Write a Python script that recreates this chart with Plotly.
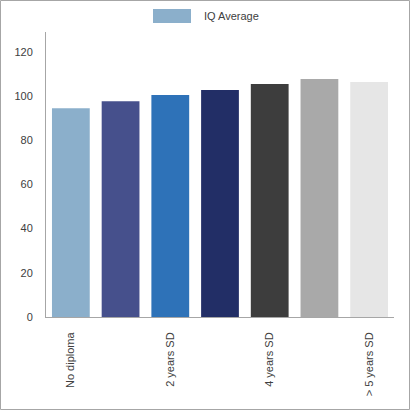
import plotly.graph_objects as go

categories = ["No diploma", "1 year SD", "2 years SD", "3 years SD",
              "4 years SD", "5 years SD", "> 5 years SD"]
iq_average = [94.5, 97.7, 100.5, 102.7, 105.5, 107.7, 106.4]
bar_colors = ["#8BAFCB", "#46508C", "#2E72B8", "#222E66",
              "#3D3D3D", "#A9A9A9", "#E6E6E6"]
shown_ticks = ["No diploma", "2 years SD", "4 years SD", "> 5 years SD"]

W, H = 411, 411
ml, mr, mt, mb = 46, 17, 32, 94
pw, ph = W - ml - mr, H - mt - mb

fig = go.Figure()
fig.add_trace(go.Bar(x=categories, y=iq_average, marker_color=bar_colors,
                     marker_line_width=0, name="IQ Average", showlegend=False))

fig.update_layout(
    width=W, height=H,
    margin=dict(l=ml, r=mr, t=mt, b=mb, pad=0, autoexpand=False),
    paper_bgcolor="white", plot_bgcolor="white",
    font=dict(family="Liberation Sans, Arial, sans-serif", size=11, color="#404040"),
    bargap=0.24,
)
fig.update_xaxes(type="category", tickvals=shown_ticks, tickangle=-90,
                 showline=True, linecolor="#A6A6A6", linewidth=1,
                 showgrid=False, ticks="", ticklabelstandoff=10, automargin=False)
fig.update_yaxes(range=[0, 129], dtick=20, showline=True, linecolor="#A6A6A6",
                 linewidth=1, showgrid=False, zeroline=False, ticks="",
                 ticklabelstandoff=10, automargin=False)

# legend drawn by hand to get the wide swatch
fig.add_shape(type="rect", xref="paper", yref="paper",
              x0=(153 - ml) / pw, x1=(191 - ml) / pw,
              y0=(H - mb - 23) / ph, y1=(H - mb - 9) / ph,
              fillcolor=bar_colors[0], line_width=0)
fig.add_annotation(text="IQ Average", xref="paper", yref="paper",
                   x=(202 - ml) / pw, y=(H - mb - 16) / ph,
                   xanchor="left", yanchor="middle", showarrow=False,
                   font=dict(size=11, color="#404040"))

# outer frame
fig.add_shape(type="rect", xref="paper", yref="paper",
              x0=-(ml - 0.5) / pw, x1=(W - ml - 1.5) / pw,
              y0=-(mb - 1.5) / ph, y1=(H - mb - 0.5) / ph,
              line=dict(color="#A6A6A6", width=1))

# page body has a default 8px margin, drop it so the chart sits at 0,0
fig.write_html("out.html", config={"displayModeBar": False},
               post_script="document.body.style.margin='0';")
